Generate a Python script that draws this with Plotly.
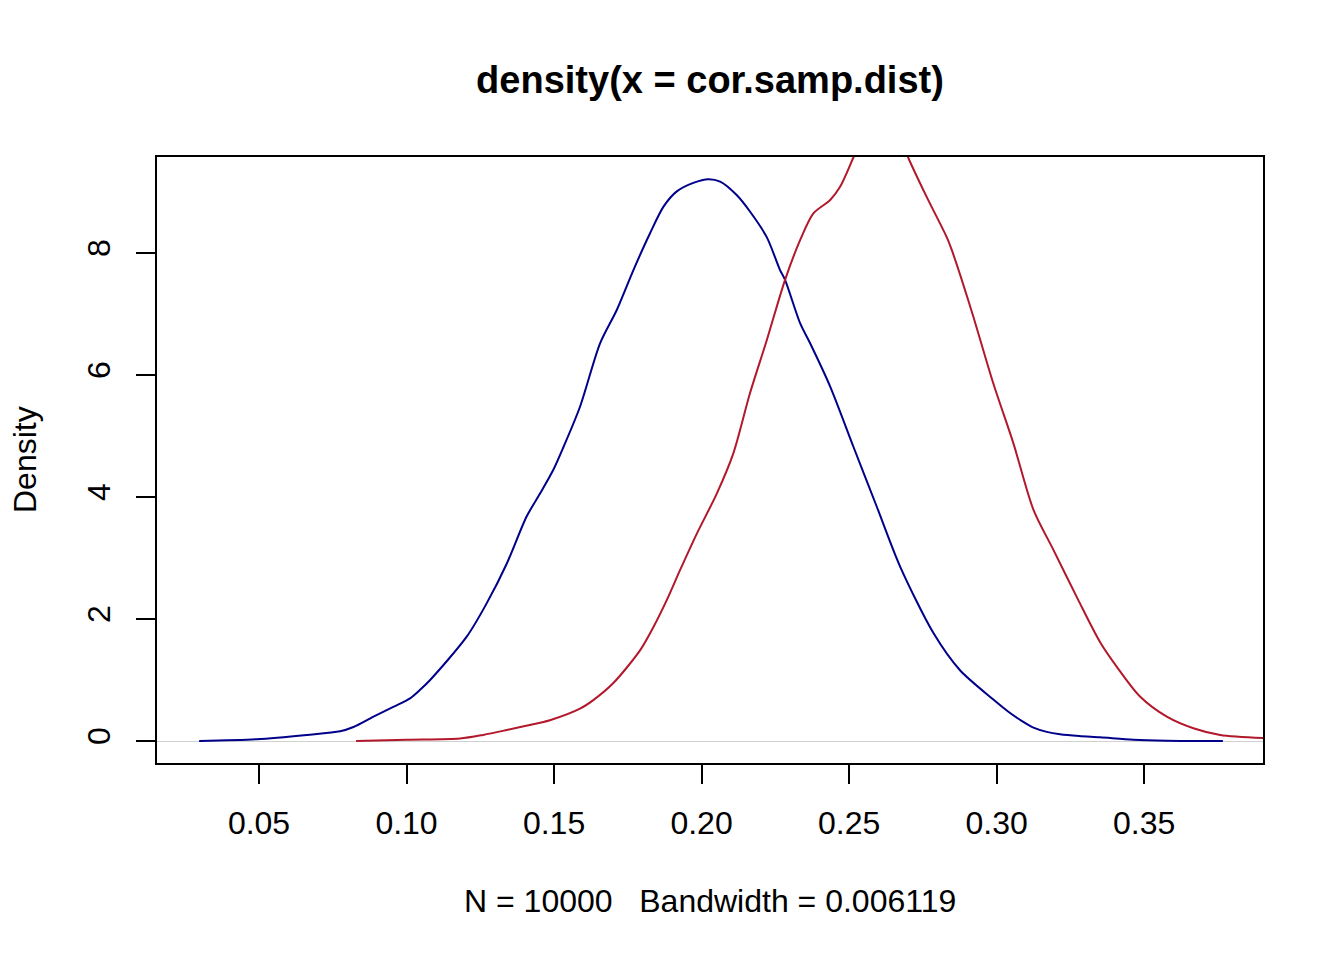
import plotly.graph_objects as go

# density estimate, first sample (blue)
x_blue = [0.0297, 0.0492, 0.0662, 0.0775, 0.082, 0.0888, 0.0955, 0.1012, 0.1046, 0.108,
          0.1204, 0.1272, 0.134, 0.1407, 0.1453, 0.1498, 0.1532, 0.1588, 0.1656, 0.1713,
          0.1769, 0.1825, 0.1871, 0.1916, 0.1972, 0.2023, 0.2063, 0.2119, 0.2164, 0.2221,
          0.2266, 0.2283, 0.2334, 0.2368, 0.2436, 0.2515, 0.2594, 0.2673, 0.2786, 0.2876,
          0.2989, 0.304, 0.3085, 0.3125, 0.317, 0.3215, 0.328, 0.3351, 0.3464, 0.3577, 0.3767]
dens_blue = [0.0, 0.03, 0.10, 0.16, 0.23, 0.40, 0.56, 0.70, 0.84, 1.00,
             1.71, 2.26, 2.91, 3.68, 4.06, 4.45, 4.82, 5.48, 6.52, 7.07,
             7.72, 8.32, 8.76, 9.01, 9.15, 9.21, 9.17, 8.95, 8.68, 8.26,
             7.72, 7.56, 6.85, 6.52, 5.81, 4.82, 3.84, 2.86, 1.77, 1.16,
             0.68, 0.48, 0.33, 0.22, 0.15, 0.11, 0.08, 0.06, 0.02, 0.005, 0.0]

# density estimate, second sample (red)
x_red = [0.0829, 0.1001, 0.1181, 0.126, 0.134, 0.1453, 0.1486, 0.1588, 0.1633, 0.1701,
         0.1792, 0.1837, 0.1882, 0.1927, 0.1984, 0.2052, 0.2108, 0.2164, 0.2221, 0.2283,
         0.2334, 0.2379, 0.2436, 0.247, 0.2515, 0.255, 0.258, 0.261, 0.264, 0.267,
         0.270, 0.2763, 0.2831, 0.2848, 0.2882, 0.2921, 0.2989, 0.3057, 0.3125, 0.3193,
         0.3277, 0.3351, 0.3407, 0.3486, 0.3577, 0.3667, 0.3758, 0.3905]
dens_red = [0.0, 0.02, 0.04, 0.10, 0.18, 0.30, 0.34, 0.53, 0.67, 0.95,
            1.49, 1.87, 2.31, 2.80, 3.40, 4.06, 4.72, 5.70, 6.57, 7.56,
            8.21, 8.65, 8.87, 9.09, 9.57, 9.95, 10.15, 10.25, 10.2, 9.95,
            9.57, 8.92, 8.26, 8.05, 7.56, 6.96, 5.86, 4.88, 3.79, 3.13,
            2.31, 1.62, 1.22, 0.73, 0.40, 0.21, 0.10, 0.05]

x_ticks = [0.05, 0.10, 0.15, 0.20, 0.25, 0.30, 0.35]
y_ticks = [0, 2, 4, 6, 8]

FONT = "Liberation Sans, Arial, Helvetica, sans-serif"
OFF = 8  # page body margin in the browser

fig = go.Figure()
fig.add_trace(go.Scatter(x=x_blue, y=dens_blue, mode="lines", showlegend=False,
                         line=dict(color="#00008B", width=2, shape="spline", smoothing=0.8)))
fig.add_trace(go.Scatter(x=x_red, y=dens_red, mode="lines", showlegend=False,
                         line=dict(color="#B2182B", width=2, shape="spline", smoothing=0.8)))

axis = dict(showgrid=False, showline=True, mirror=True, linecolor="black", linewidth=2,
            ticks="outside", ticklen=19, tickwidth=2, tickcolor="black",
            tickfont=dict(size=32, color="black", family=FONT))
fig.update_xaxes(**axis, range=[0.01542, 0.3903], tickvals=x_ticks,
                 ticktext=[f"{v:.2f}" for v in x_ticks], zeroline=False, ticklabelstandoff=12)
fig.update_yaxes(**axis, range=[-0.3607, 9.574], tickvals=y_ticks, tickangle=-90,
                 zeroline=True, zerolinecolor="#D0D0D0", zerolinewidth=1, ticklabelstandoff=13)

fig.update_layout(
    width=1344, height=960,
    margin=dict(l=157 - OFF, r=81 + OFF, t=157 - OFF, b=197 + OFF),
    paper_bgcolor="white", plot_bgcolor="white",
    font=dict(family=FONT, color="black"),
    title=dict(text="<b>density(x = cor.samp.dist)</b>", font=dict(size=38, color="black"),
               x=(710 - OFF) / 1344, xref="container", xanchor="center",
               y=1 - (80 - OFF) / 960, yref="container", yanchor="middle"),
    annotations=[
        dict(text="N = 10000\u00a0\u00a0\u00a0Bandwidth = 0.006119", xref="paper", yref="paper",
             x=0.5, y=(763 - 901) / 606, xanchor="center", yanchor="middle", showarrow=False,
             font=dict(size=32, color="black")),
        dict(text="Density", xref="paper", yref="paper", x=(25 - 157) / 1106, y=0.5,
             textangle=-90, xanchor="center", yanchor="middle", showarrow=False,
             font=dict(size=32, color="black")),
    ],
)

fig.write_html("out.html")
